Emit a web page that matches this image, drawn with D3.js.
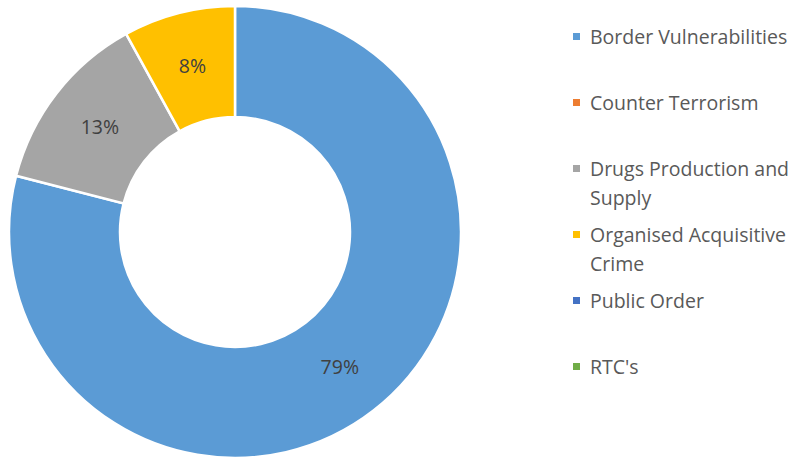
<!DOCTYPE html>
<html>
<head>
<meta charset="utf-8">
<script src="https://cdn.jsdelivr.net/npm/d3@7"></script>
<style>
  body { margin: 0; background: #fff; }
  svg text { font-family: "Open Sans", "Noto Sans", sans-serif; }
</style>
</head>
<body>
<div id="chart"></div>
<script>
var categories = ["Border Vulnerabilities", "Counter Terrorism", "Drugs Production and Supply",
                  "Organised Acquisitive Crime", "Public Order", "RTC's"];
var values = [79, 0, 13, 8, 0, 0];
var colours = ["#5B9BD5", "#ED7D31", "#A5A5A5", "#FFC000", "#4472C4", "#70AD47"];
// wrapped legend lines, as in the original
var legendLines = [["Border Vulnerabilities"], ["Counter Terrorism"], ["Drugs Production and", "Supply"],
                   ["Organised Acquisitive", "Crime"], ["Public Order"], ["RTC's"]];

var width = 805, height = 459;
var cx = 235, cy = 232, outerR = 226, innerR = 115;

var svg = d3.select("#chart").append("svg")
    .attr("width", width)
    .attr("height", height);

var data = categories.map(function(c, i) {
    return { name: c, value: values[i], colour: colours[i] };
});

var pie = d3.pie()
    .sort(null)
    .value(function(d) { return d.value; });

var arc = d3.arc().innerRadius(innerR).outerRadius(outerR);
var labelArc = d3.arc().innerRadius(171).outerRadius(171);

var g = svg.append("g").attr("transform", "translate(" + cx + "," + cy + ")");
var arcs = pie(data).filter(function(d) { return d.data.value > 0; });

g.selectAll("path")
    .data(arcs)
    .enter().append("path")
    .attr("d", arc)
    .attr("fill", function(d) { return d.data.colour; })
    .attr("stroke", "#fff")
    .attr("stroke-width", 2.5);

var total = d3.sum(values);
g.selectAll(".lbl")
    .data(arcs)
    .enter().append("text")
    .attr("class", "lbl")
    .attr("transform", function(d) { return "translate(" + labelArc.centroid(d) + ")"; })
    .attr("text-anchor", "middle")
    .attr("dy", "0.35em")
    .attr("fill", "#404040")
    .style("font-size", "19.5px")
    .text(function(d) { return Math.round(d.data.value / total * 100) + "%"; });

// legend
var legendY = d3.scalePoint().domain(categories).range([37, 367]);

var items = svg.selectAll(".legend")
    .data(data)
    .enter().append("g")
    .attr("class", "legend")
    .attr("transform", function(d) { return "translate(573," + legendY(d.name) + ")"; });

items.append("rect")
    .attr("x", 0)
    .attr("y", -4)
    .attr("width", 7)
    .attr("height", 7)
    .attr("fill", function(d) { return d.colour; });

items.append("text")
    .attr("x", 17)
    .attr("fill", "#595959")
    .style("font-size", "19.5px")
    .each(function(d, i) {
        var t = d3.select(this);
        legendLines[i].forEach(function(line, j) {
            t.append("tspan")
                .attr("x", 17)
                .attr("y", j * 29)
                .attr("dy", "0.35em")
                .text(line);
        });
    });
</script>
</body>
</html>
